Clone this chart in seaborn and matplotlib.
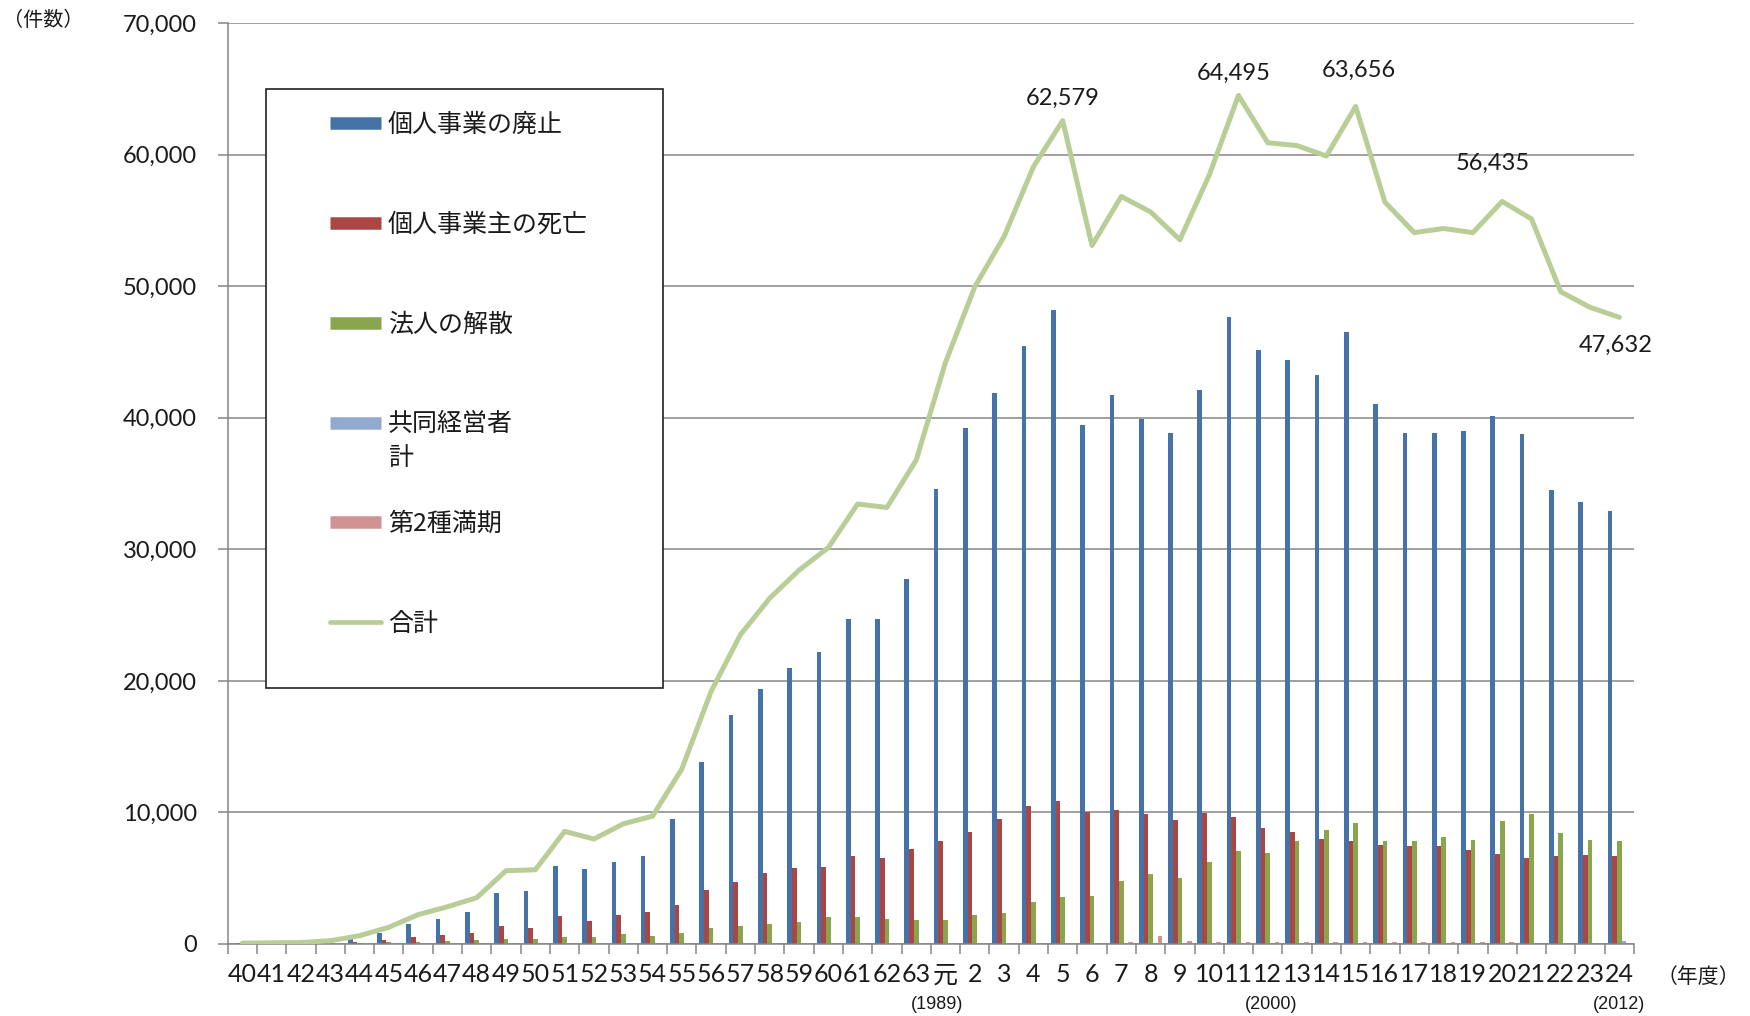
import numpy as np
import pandas as pd
import matplotlib
matplotlib.use("Agg")
import matplotlib.pyplot as plt
import matplotlib.transforms as mtransforms
import seaborn as sns
from matplotlib.lines import Line2D
from matplotlib.patches import Rectangle
from matplotlib.ticker import FuncFormatter, MultipleLocator

# 年度（昭和40年度～昭和63年度、平成元年度～平成24年度）
years = [str(y) for y in range(40, 64)] + ["元"] + [str(y) for y in range(2, 25)]

# 個人事業の廃止
haishi = [10, 20, 30, 120, 420, 840, 1520, 1920, 2400, 3880, 4050, 5900,
          5700, 6200, 6690, 9500, 13850, 17410, 19370, 20940, 22180, 24720,
          24720, 27740, 34590, 39240, 41900, 45450, 48200, 39410, 41730,
          39870, 38830, 42110, 47690, 45170, 44380, 43210, 46510, 41040,
          38830, 38830, 39010, 40130, 38730, 34500, 33610, 32900]
# 個人事業主の死亡
shibou = [60, 65, 70, 110, 150, 280, 560, 660, 840, 1340, 1240, 2100,
          1720, 2200, 2400, 2960, 4130, 4710, 5390, 5770, 5870, 6660,
          6560, 7240, 7820, 8510, 9490, 10460, 10840, 10030, 10150,
          9850, 9440, 9950, 9650, 8790, 8480, 8000, 7800, 7520,
          7420, 7420, 7140, 6840, 6530, 6660, 6760, 6660]
# 法人の解散
kaisan = [0, 5, 10, 20, 60, 150, 150, 250, 280, 350, 350, 560,
          560, 730, 630, 840, 1220, 1390, 1520, 1700, 2080, 2080,
          1900, 1800, 1800, 2200, 2380, 3160, 3540, 3650, 4810,
          5290, 5010, 6250, 7040, 6940, 7820, 8680, 9230, 7820,
          7820, 8130, 7920, 9370, 9850, 8410, 7920, 7820]
# 共同経営者計
kyodo = [0] * 46 + [100, 250]
# 第2種満期
dai2 = [0] * 30 + [130, 630, 250, 120, 120, 120, 120, 120, 120, 120,
                   120, 120, 120, 120, 0, 0, 0, 0]
# 合計
goukei = [70, 90, 110, 250, 630, 1270, 2230, 2830, 3520, 5570, 5640, 8560,
          7980, 9130, 9720, 13300, 19200, 23510, 26280, 28410, 30130, 33440,
          33180, 36780, 44210, 49950, 53770, 59070, 62579, 53090, 56820,
          55640, 53530, 58430, 64495, 60900, 60680, 59890, 63656, 56380,
          54070, 54380, 54070, 56435, 55110, 49570, 48390, 47632]

series_names = ["個人事業の廃止", "個人事業主の死亡", "法人の解散", "共同経営者計", "第2種満期"]
series_values = [haishi, shibou, kaisan, kyodo, dai2]
series_colors = ["#4572A7", "#AA4643", "#89A54E", "#93A9CF", "#D09392"]
total_name = "合計"
total_color = "#B9CD96"

# 値ラベルを付ける年度と、点からのずらし量（ピクセル）
callouts = {"5": (0, 22), "11": (-5, 22), "15": (3, 36), "20": (-9, 38), "24": (-4, -28)}
era_notes = {"元": ("(1989)", -0.28), "12": ("(2000)", 0.1), "24": ("(2012)", 0.0)}

sns.set_theme(style="white")
plt.rcParams["font.family"] = ["Lato", "Noto Sans CJK JP"]
GRAY = "#868686"
TXT = "#1a1a1a"
JP = ["Noto Sans CJK JP", "DejaVu Sans"]

W, H = 1750, 1016
fig = plt.figure(figsize=(W / 100, H / 100), dpi=100)
ax = fig.add_axes([227.7 / W, (H - 944) / H, (1634 - 227.7) / W, (944 - 23) / H])

df = pd.DataFrame({
    "年度": years * len(series_names),
    "系列": np.repeat(series_names, len(years)),
    "件数": np.concatenate(series_values),
})
sns.barplot(data=df, x="年度", y="件数", hue="系列", order=years,
            hue_order=series_names, palette=series_colors, saturation=1,
            width=0.8, linewidth=0, legend=False, ax=ax)

xpos = np.arange(len(years))
sns.lineplot(x=xpos, y=goukei, color=total_color, linewidth=3.6,
             ax=ax, zorder=4, legend=False)
for ln in ax.lines:
    ln.set_solid_joinstyle("round")
    ln.set_solid_capstyle("round")

# 軸まわり
ax.set_xlim(-0.5, len(years) - 0.5)
ax.set_ylim(0, 70000)
ax.yaxis.set_major_locator(MultipleLocator(10000))
ax.yaxis.set_major_formatter(FuncFormatter(lambda v, p: f"{int(v):,}"))
ax.set_xticks(xpos)
ax.set_xticklabels(years)
ax.set_xticks(np.arange(-0.5, len(years), 1), minor=True)
ax.tick_params(axis="x", which="major", length=0, pad=14, labelsize=18, labelcolor=TXT)
ax.tick_params(axis="x", which="minor", length=7, width=1.1, color=GRAY, direction="out", bottom=True)
ax.tick_params(axis="y", which="major", length=7, width=1.1, color=GRAY, direction="out",
               left=True, pad=15, labelsize=17, labelcolor=TXT)
ax.grid(axis="y", color=GRAY, linewidth=1.1)
ax.grid(axis="x", visible=False)
ax.set_axisbelow(True)
for s in ["top", "right"]:
    ax.spines[s].set_visible(False)
for s in ["left", "bottom"]:
    ax.spines[s].set_color(GRAY)
    ax.spines[s].set_linewidth(1.1)
ax.set_xlabel("")
ax.set_ylabel("")

# 合計の値ラベル
for key, (dx, dy) in callouts.items():
    i = years.index(key)
    ax.annotate(f"{goukei[i]:,}", (i, goukei[i]), xytext=(dx, dy),
                textcoords="offset pixels", ha="center", va="center",
                fontsize=17, color=TXT, zorder=6)

# 西暦の注記
blend = mtransforms.blended_transform_factory(ax.transData, ax.transAxes)
for key, (txt, shift) in era_notes.items():
    ax.text(years.index(key) + shift, -0.066, txt, transform=blend, ha="center",
            va="center", fontsize=13, family="Liberation Sans", color=TXT)

fig.text(3 / W, 1 - 20 / H, "（件数）", ha="left", va="center", fontsize=14.5, family=JP, color=TXT)
fig.text(1657 / W, 1 - 977 / H, "（年度）", ha="left", va="center", fontsize=15, family=JP, color=TXT)

# 凡例
frame = Rectangle((266 / W, (H - 688) / H), 397 / W, 599 / H, transform=fig.transFigure,
                  facecolor="white", edgecolor="#222222", linewidth=1.2, zorder=5)
ax.add_patch(frame)
frame.set_clip_on(False)

handles = [Line2D([], [], color=c, linewidth=9, solid_capstyle="butt") for c in series_colors]
handles.append(Line2D([], [], color=total_color, linewidth=3.4, solid_capstyle="round"))
labels = series_names[:3] + ["共同経営者"] + series_names[4:] + [total_name]
fs_pt = 18
fs_px = fs_pt * 100 / 72
leg = ax.legend(handles, labels, loc="upper left",
                bbox_to_anchor=(330 / W, 1 - 112 / H), bbox_transform=fig.transFigure,
                frameon=False, borderpad=0, borderaxespad=0,
                handlelength=51 / fs_px, handletextpad=7 / fs_px,
                labelspacing=2.95, prop={"family": JP, "size": fs_pt})
leg.set_zorder(6)
for t in leg.get_texts():
    t.set_color(TXT)

fig.canvas.draw()
bb = leg.get_texts()[3].get_window_extent(fig.canvas.get_renderer())
fig.text(bb.x0 / W, (bb.y0 - 33.5) / H, "計", ha="left", va="bottom",
         fontsize=fs_pt, family=JP, color=TXT, zorder=7)

fig.savefig("out.png", dpi=100, facecolor="white")
